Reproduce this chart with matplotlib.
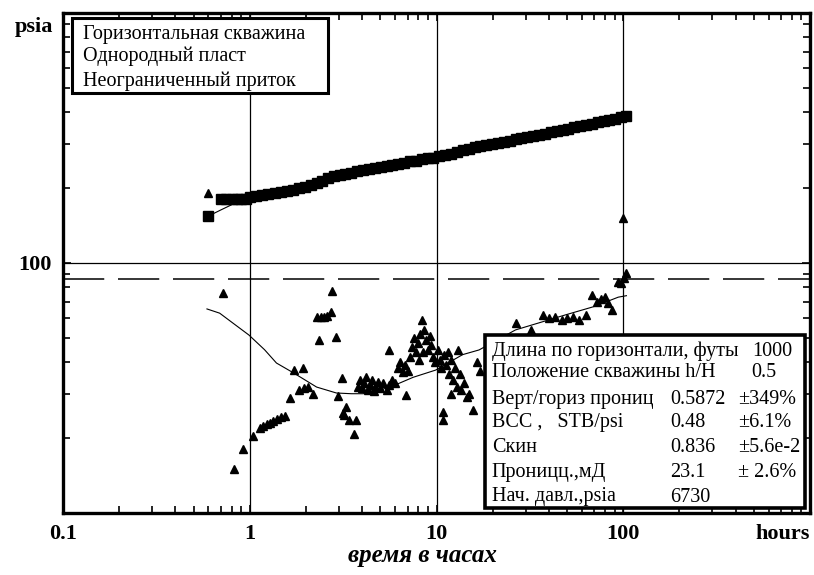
import matplotlib
matplotlib.use('Agg')
import matplotlib.pyplot as plt
from matplotlib.ticker import LogLocator, NullFormatter, FixedLocator, FixedFormatter
from matplotlib.patches import Rectangle

plt.rcParams['font.family'] = ['Liberation Serif', 'DejaVu Serif']

# pressure change (squares)
p_t = [0.6, 0.7, 0.75, 0.8, 0.85, 0.9, 0.95, 1.0, 1.08, 1.17, 1.26, 1.36, 1.47, 1.58,
       1.7, 1.83, 1.97, 2.12, 2.28, 2.45, 2.63, 2.82, 3.03, 3.25, 3.5, 3.76, 4.04, 4.34,
       4.67, 5.02, 5.4, 5.8, 6.24, 6.7, 7.2, 7.75, 8.33, 8.95, 9.62, 10.3, 11.1, 12.0,
       12.9, 13.8, 14.9, 16.0, 17.2, 18.5, 19.9, 21.4, 23.0, 24.7, 26.5, 28.5, 30.7, 33.0,
       35.4, 38.1, 40.9, 44.0, 47.3, 50.8, 54.6, 58.7, 63.1, 67.8, 72.9, 78.4, 84.2, 90.5,
       97.3, 104]
p_v = [154, 180, 180, 180, 180, 180, 181, 184, 185, 187, 189, 190, 192, 194,
       196, 199, 202, 205, 208, 213, 219, 222, 225, 227, 230, 233, 235, 237,
       240, 242, 244, 247, 250, 252, 255, 257, 260, 262, 264, 267, 270, 274,
       278, 282, 286, 290, 293, 296, 299, 302, 306, 309, 313, 316, 320, 323,
       326, 329, 333, 337, 340, 344, 349, 353, 357, 361, 365, 369, 374, 378,
       383, 388]

# derivative (triangles)
d_t = [0.60, 0.72, 0.82, 0.92, 1.04, 1.13, 1.18, 1.23, 1.28, 1.34, 1.40, 1.47, 1.54,
       1.65, 1.72, 1.92, 1.83, 2.06, 2.19, 1.95, 2.36, 2.91, 2.28, 2.4, 2.5, 2.6, 2.74,
       2.77, 2.98, 3.13, 3.17, 3.29, 3.21, 3.41, 3.72, 3.63,
       3.8, 3.9, 4.0, 4.1, 4.2, 4.3, 4.4, 4.5, 4.6, 4.7, 4.85, 5.0, 5.2, 5.4, 5.6, 5.8,
       6.0, 5.57, 6.2, 6.4, 6.6, 6.8, 7.0, 6.87,
       7.2, 7.4, 7.6, 7.8, 8.0, 8.2, 8.4, 8.6, 8.8, 9.0, 9.2, 9.4, 9.6, 9.8, 8.1, 8.5,
       10.2, 10.4, 10.6, 10.8, 10.8, 11.0, 11.3, 11.6, 11.9, 12.2, 12.5, 12.8, 13.0,
       13.3, 13.6, 14.0, 14.5, 15.0, 15.6, 12.0, 11.5, 16.5, 17.0,
       26.5, 32, 37, 40, 43, 47, 50, 54, 58, 63, 68, 72, 76, 80, 83, 87.5, 94, 104,
       100, 101, 97]
d_v = [190, 76, 15.0, 18.0, 20.3, 21.9, 22.3, 22.6, 23.0, 23.4, 23.8, 24.1, 24.4,
       28.8, 37.3, 38.0, 31.0, 31.9, 29.9, 31.5, 49.2, 50.6, 60.8, 60.8, 61, 61.5, 63.7,
       77.3, 29.4, 34.7, 25.1, 26.5, 24.7, 23.6, 23.6, 20.7,
       32, 34, 31.5, 33, 35, 31, 32.5, 34, 30.8, 32, 33.5, 31.5, 33, 31, 32.5, 34,
       33, 44.9, 38, 40, 36.5, 39, 37, 29.6,
       42, 46, 50, 44, 48, 52, 59.2, 54, 49, 45, 51, 47, 42, 40, 41, 44,
       45, 41, 38, 25.3, 23.6, 43, 39, 36, 41, 34, 38, 32, 45,
       36, 31, 33, 29, 30, 25.8, 30, 44, 40, 37,
       57.5, 54, 62, 60, 61, 59, 60, 61, 59, 62, 74.5, 70, 72, 73, 69, 64.9, 84, 91.2,
       151, 87, 83]

# model curves
mp_t = [0.6, 0.7, 0.8, 0.9, 1.0, 1.5, 2.0, 3.0, 5.0, 10, 20, 50, 100]
mp_v = [154, 163, 171, 178, 184, 193, 203, 224, 243, 266, 300, 344, 385]
md_t = [0.59, 0.69, 0.8, 0.99, 1.2, 1.39, 1.72, 2.28, 2.91, 3.5, 4.05, 5, 6, 7.5,
        9.9, 13.8, 16.9, 26.5, 49, 70, 94, 104]
md_v = [65.5, 63, 58, 51.5, 45, 39.8, 36.3, 31.9, 30.2, 30, 30, 31, 32.5, 34.9,
        37.3, 43, 44.9, 54, 62, 67, 73, 74]

stab_level = 86

header = ['Горизонтальная скважина', 'Однородный пласт', 'Неограниченный приток']
param_names = ['Длина по горизонтали, футы', 'Положение скважины h/H',
               'Верт/гориз прониц', 'BCC ,   STB/psi', 'Скин', 'Проницц.,мД',
               'Нач. давл.,psia']
param_values = ['', '', '0.5872', '0.48', '0.836', '23.1', '6730']
param_errs = ['1000', '0.5', '±349%', '±6.1%', '±5.6e-2', '± 2.6%', '']

fig = plt.figure(figsize=(8.14, 5.75), dpi=100)
ax = fig.add_axes([63/814, 62/575, 747/814, 500/575])
ax.set_xscale('log')
ax.set_yscale('log')
ax.set_xlim(0.1, 1000)
ax.set_ylim(10, 1000)

for v in [1, 10, 100]:
    ax.axvline(v, color='black', lw=0.9, zorder=1)
ax.axhline(100, color='black', lw=0.9, zorder=1)
ax.axhline(stab_level, color='black', lw=1.1, dashes=(27, 9), zorder=1)

ax.plot(mp_t, mp_v, color='black', lw=0.8, zorder=2)
ax.plot(md_t, md_v, color='black', lw=0.8, zorder=2)
ax.plot(p_t, p_v, 's', color='black', ms=7, zorder=3)
ax.plot(d_t, d_v, '^', color='black', ms=6, zorder=3)

for s in ax.spines.values():
    s.set_linewidth(2.4)

ax.xaxis.set_major_locator(FixedLocator([0.1, 1, 10, 100, 1000]))
ax.xaxis.set_major_formatter(FixedFormatter(['0.1', '1', '10', '100', 'hours']))
ax.xaxis.set_minor_locator(LogLocator(base=10, subs=range(2, 10)))
ax.xaxis.set_minor_formatter(NullFormatter())
ax.yaxis.set_major_locator(FixedLocator([100]))
ax.yaxis.set_major_formatter(FixedFormatter(['100']))
ax.yaxis.set_minor_locator(LogLocator(base=10, subs=range(2, 10)))
ax.yaxis.set_minor_formatter(NullFormatter())
ax.tick_params(which='both', direction='in', top=True, right=True, width=1.2)
ax.tick_params(which='major', length=6, labelsize=16, pad=8)
ax.tick_params(which='minor', length=5)
for lab in ax.get_xticklabels() + ax.get_yticklabels():
    lab.set_fontweight('bold')
ax.get_xticklabels()[-1].set_horizontalalignment('right')

ax.text(-0.013, 0.972, 'psia', transform=ax.transAxes, ha='right', va='center',
        fontsize=16, fontweight='bold')
fig.text(422/814, 8/575, 'время в часах', ha='center', va='bottom',
         fontsize=18, fontweight='bold', fontstyle='italic')

# header box
ax.add_patch(Rectangle((0.012, 0.84), 0.343, 0.15, transform=ax.transAxes,
                       facecolor='white', edgecolor='black', lw=2.2, zorder=5))
for i, line in enumerate(header):
    ax.text(0.027, [0.962, 0.918, 0.868][i], line, transform=ax.transAxes,
            ha='left', va='center_baseline', fontsize=14.5, zorder=6)

# parameter box
ax.add_patch(Rectangle((0.565, 0.01), 0.428, 0.346, transform=ax.transAxes,
                       facecolor='white', edgecolor='black', lw=2.6, zorder=5))
rows_y = [0.328, 0.286, 0.232, 0.186, 0.136, 0.086, 0.037]
for i, y in enumerate(rows_y):
    ax.text(0.574, y, param_names[i], transform=ax.transAxes, ha='left',
            va='center_baseline', fontsize=14.5, zorder=6)
    if param_values[i]:
        ax.text(0.8126, y, param_values[i], transform=ax.transAxes, ha='left',
                va='center_baseline', fontsize=14.5, zorder=6)
    if param_errs[i]:
        ex = 0.922 if i < 2 else 0.9036
        ax.text(ex, y, param_errs[i], transform=ax.transAxes, ha='left',
                va='center_baseline', fontsize=14.5, zorder=6)

fig.savefig('out.png', dpi=100)
